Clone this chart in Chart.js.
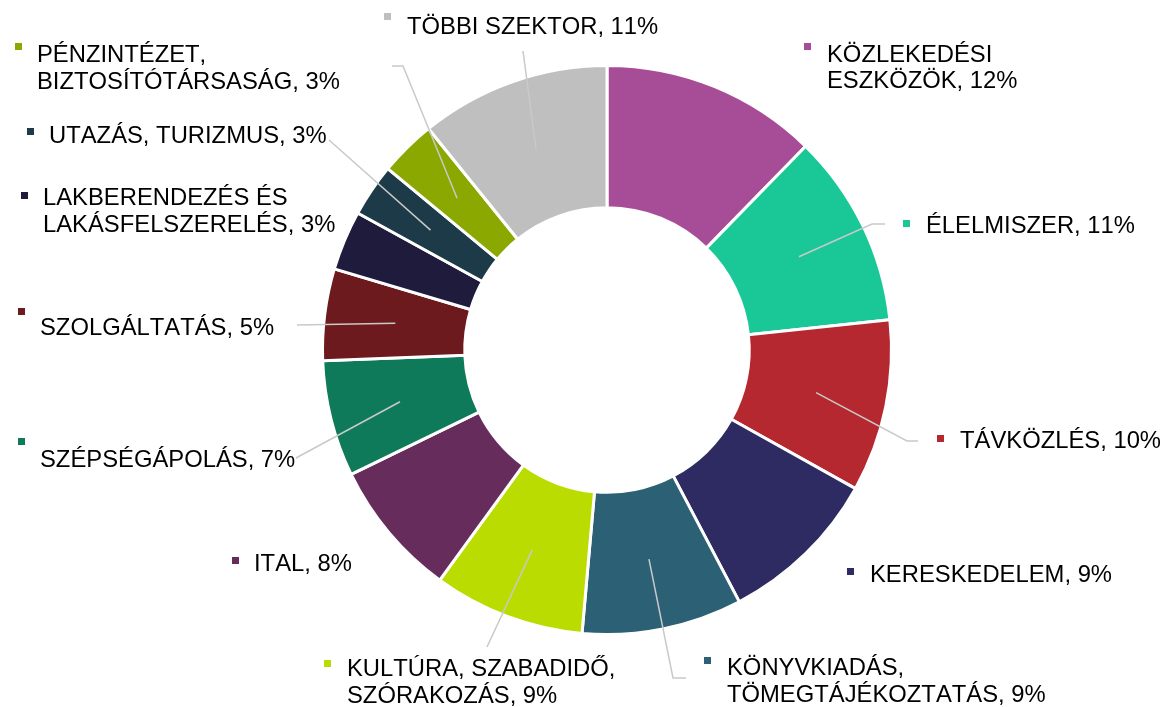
<!DOCTYPE html>
<html><head><meta charset="utf-8">
<script src="https://cdn.jsdelivr.net/npm/chart.js@4/dist/chart.umd.min.js"></script>
<style>html,body{margin:0;padding:0;background:#fff;overflow:hidden}#wrap{position:relative;width:1168px;height:707px}</style>
</head><body><div id="wrap"><canvas id="c"></canvas></div>
<script>
// ---- data ----
const categories = [
  'KÖZLEKEDÉSI\nESZKÖZÖK',
  'ÉLELMISZER',
  'TÁVKÖZLÉS',
  'KERESKEDELEM',
  'KÖNYVKIADÁS,\nTÖMEGTÁJÉKOZTATÁS',
  'KULTÚRA, SZABADIDŐ,\nSZÓRAKOZÁS',
  'ITAL',
  'SZÉPSÉGÁPOLÁS',
  'SZOLGÁLTATÁS',
  'LAKBERENDEZÉS ÉS\nLAKÁSFELSZERELÉS',
  'UTAZÁS, TURIZMUS',
  'PÉNZINTÉZET,\nBIZTOSÍTÓTÁRSASÁG',
  'TÖBBI SZEKTOR'
];
const shares = [12.3, 11.0, 9.8, 9.2, 9.1, 8.6, 7.8, 6.6, 5.2, 3.4, 3.0, 3.2, 10.8];
const percentLabels = ['12%', '11%', '10%', '9%', '9%', '9%', '8%', '7%', '5%', '3%', '3%', '3%', '11%'];
const sliceColors = ['#A74D97', '#19C797', '#B5282F', '#2E2A62', '#2C6075', '#BADC00', '#662D5C', '#0E7A5A', '#6C1A1E', '#1E1B3C', '#1C3A48', '#8BA800', '#BFBFBF'];

// ---- label layout (text x, baselines, marker pos, leader path) ----
const labelLayout = [
  {tx: 827, ty: 61.5, mx: 804, my: 43, path: null},
  {tx: 926, ty: 233, mx: 903, my: 220, path: [[872, 224], [885, 224]]},
  {tx: 960, ty: 448, mx: 937, my: 435, path: [[907, 441], [918, 441]]},
  {tx: 870, ty: 581.5, mx: 847, my: 568, path: null},
  {tx: 727, ty: 675, mx: 704, my: 657, path: [[673, 678], [686, 678]]},
  {tx: 347, ty: 676, mx: 324, my: 660, path: [[487, 647]]},
  {tx: 254, ty: 570.5, mx: 232, my: 557, path: null},
  {tx: 40, ty: 466.5, mx: 18, my: 438, path: [[296, 458]]},
  {tx: 40, ty: 335, mx: 18, my: 308, path: [[297, 325]]},
  {tx: 43, ty: 205, mx: 21, my: 192, path: null},
  {tx: 49, ty: 143, mx: 27, my: 128, path: [[329, 140]]},
  {tx: 37, ty: 61.7, mx: 15, my: 43, path: [[403, 66], [392, 66]]},
  {tx: 407, ty: 33.5, mx: 384, my: 13, path: [[523, 51]]}
];
const LINE_GAP = 26.8;

const labelPlugin = {
  id: 'outLabels',
  afterDatasetsDraw(chart) {
    const ctx = chart.ctx;
    const meta = chart.getDatasetMeta(0);
    ctx.save();
    meta.data.forEach((arc, i) => {
      const p = arc.getProps(['x', 'y', 'startAngle', 'endAngle', 'innerRadius', 'outerRadius'], true);
      const lay = labelLayout[i];
      if (lay.path) {
        const mid = (p.startAngle + p.endAngle) / 2;
        const r = (p.innerRadius + p.outerRadius) / 2;
        ctx.beginPath();
        ctx.moveTo(p.x + Math.cos(mid) * r, p.y + Math.sin(mid) * r);
        lay.path.forEach(pt => ctx.lineTo(pt[0], pt[1]));
        ctx.strokeStyle = '#C9C9C9';
        ctx.lineWidth = 1.5;
        ctx.stroke();
      }
      ctx.fillStyle = sliceColors[i];
      ctx.fillRect(lay.mx, lay.my, 7, 7);
      const lines = (categories[i] + ', ' + percentLabels[i]).split('\n');
      ctx.fillStyle = '#000';
      ctx.font = '23.8px "Liberation Sans", Arial, sans-serif';
      if ('fontKerning' in ctx) ctx.fontKerning = 'none';
      ctx.textBaseline = 'alphabetic';
      ctx.textAlign = 'left';
      lines.forEach((ln, k) => ctx.fillText(ln, lay.tx, lay.ty + k * LINE_GAP));
    });
    ctx.restore();
  }
};

new Chart(document.getElementById('c'), {
  type: 'doughnut',
  data: {
    labels: categories,
    datasets: [{
      data: shares,
      backgroundColor: sliceColors,
      borderColor: '#FFFFFF',
      borderWidth: 3
    }]
  },
  options: {
    responsive: true,
    maintainAspectRatio: false,
    animation: false,
    events: [],
    radius: 284.5,
    cutout: '50%',
    layout: {padding: {left: 300, right: 254, top: 36, bottom: 43}},
    plugins: {legend: {display: false}, tooltip: {enabled: false}}
  },
  plugins: [labelPlugin]
});
</script></body></html>
